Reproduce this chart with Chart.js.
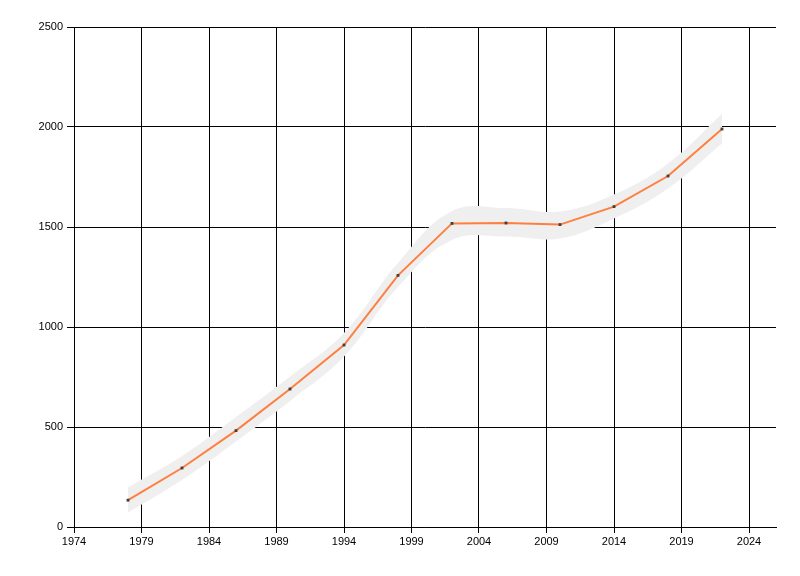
<!DOCTYPE html>
<html>
<head>
<meta charset="utf-8">
<script src="https://cdn.jsdelivr.net/npm/chart.js@4"></script>
<style>
  html, body { margin: 0; padding: 0; background: #fff; }
  #wrap { width: 800px; height: 576px; }
</style>
</head>
<body>
<div id="wrap"><canvas id="grafico" width="800" height="576"></canvas></div>
<script>
// valores
const anos = [1978, 1982, 1986, 1990, 1994, 1998, 2002, 2006, 2010, 2014, 2018, 2022];
const valores = [134, 295, 482, 690, 910, 1258, 1518, 1520, 1512, 1602, 1755, 1990];
const faixaSuperior = [198, 355, 550, 752, 970, 1320, 1580, 1595, 1578, 1663, 1818, 2065];
const faixaInferior = [72, 235, 427, 630, 852, 1200, 1435, 1452, 1443, 1543, 1693, 1918];
const ticksX = [1974, 1979, 1984, 1989, 1994, 1999, 2004, 2009, 2014, 2019, 2024];
const ticksY = [0, 500, 1000, 1500, 2000, 2500];

const pontos = (ys) => anos.map((a, i) => ({ x: a, y: ys[i] }));
const fonte = { family: 'Liberation Sans, Arial, sans-serif', size: 11 };

const ctx = document.getElementById('grafico').getContext('2d');
window.grafico = new Chart(ctx, {
    type: 'line',
    data: {
        datasets: [
            { data: pontos(faixaSuperior), borderWidth: 0, borderColor: 'rgba(0,0,0,0)', pointRadius: 0, tension: 0.4, fill: false, order: 3 },
            { data: pontos(faixaInferior), borderWidth: 0, borderColor: 'rgba(0,0,0,0)', pointRadius: 0, tension: 0.4, fill: '-1', backgroundColor: '#efefef', order: 2 },
            { data: pontos(valores), borderColor: '#ff7f3f', borderWidth: 2, tension: 0, fill: false,
              pointStyle: 'rect', pointRadius: 2, pointBackgroundColor: '#404040', pointBorderWidth: 0, order: 1 }
        ]
    },
    options: {
        responsive: false,
        animation: false,
        layout: { padding: { top: 27, right: 24, left: 0, bottom: 0 } },
        plugins: { legend: { display: false }, tooltip: { enabled: false } },
        scales: {
            x: {
                type: 'linear',
                min: 1974,
                max: 2026,
                afterBuildTicks: (s) => { s.ticks = ticksX.map(v => ({ value: v })); },
                afterFit: (s) => { s.height = 49; },
                grid: { color: '#000', lineWidth: 1, tickLength: 6, drawOnChartArea: true },
                border: { display: true, color: '#000', width: 1 },
                ticks: { color: '#000', font: fonte, padding: 2, maxRotation: 0, callback: (v) => String(v) }
            },
            y: {
                min: 0,
                max: 2500,
                afterBuildTicks: (s) => { s.ticks = ticksY.map(v => ({ value: v })); },
                afterFit: (s) => { s.width = 74; },
                grid: { color: '#000', lineWidth: 1, tickLength: 7 },
                border: { display: true, color: '#000', width: 1 },
                ticks: { color: '#000', font: fonte, padding: 4, callback: (v) => String(v) }
            }
        }
    }
});
</script>
</body>
</html>
